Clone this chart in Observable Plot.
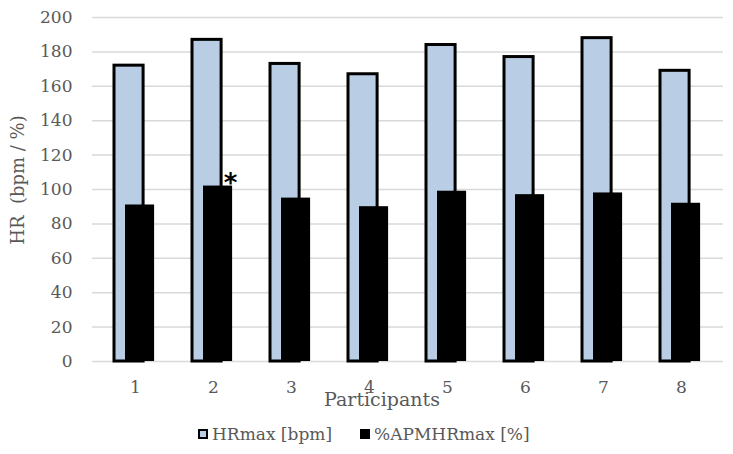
<!DOCTYPE html>
<html>
<head>
<meta charset="utf-8">
<script src="https://cdn.jsdelivr.net/npm/d3@7"></script>
<script src="https://cdn.jsdelivr.net/npm/@observablehq/plot@0.6"></script>
<style>
  html, body { margin: 0; padding: 0; background: #fff; }
  #chart { width: 733px; position: relative; }
  .legend { display: flex; justify-content: flex-start; align-items: center; margin-left: 198px; margin-top: 4px;
            font-family: "DejaVu Serif", serif; font-size: 17px; line-height: 20px; color: #595959; }
  .sw { display: inline-block; margin-right: 4px; box-sizing: border-box; }
  .item { display: flex; align-items: center; margin-right: 28px; }
</style>
</head>
<body>
<div id="chart"></div>
<script>
const participants = ["1","2","3","4","5","6","7","8"];
const hrmax = [172, 187, 173, 167, 184, 177, 188, 169];
const pctAPMHRmax = [91, 102, 95, 90, 99, 97, 98, 92];
const yTicks = [0, 20, 40, 60, 80, 100, 120, 140, 160, 180, 200];
const seriesNames = ["HRmax [bpm]", "%APMHRmax [%]"];
const significant = ["2"];

const rowsHR = participants.map((p, i) => ({p, v: hrmax[i]}));
const rowsPct = participants.map((p, i) => ({p, v: pctAPMHRmax[i]}));
const stars = rowsPct.filter(d => significant.includes(d.p));

const gray = "#595959";
const font = "DejaVu Serif, serif";

const plot = Plot.plot({
  width: 733,
  height: 420,
  marginTop: 17,
  marginBottom: 59,
  marginLeft: 92,
  marginRight: 10,
  style: {fontFamily: font, fontSize: "17px", color: gray, background: "#fff", overflow: "visible"},
  x: {domain: participants, padding: 0, label: null},
  y: {domain: [0, 200], ticks: yTicks, label: null},
  marks: [
    Plot.gridY(yTicks, {stroke: "#d9d9d9", strokeOpacity: 1, strokeWidth: 1.5}),
    Plot.axisY(yTicks, {tickSize: 0, tickPadding: 20, fontSize: 17, fill: gray}),
    Plot.axisX({tickSize: 0, tickPadding: 19, fontSize: 17, fill: gray}),
    Plot.barY(rowsHR, {x: "p", y: "v", fill: "#b9cde5", stroke: "#000", strokeWidth: 3, insetLeft: 18, insetRight: 30.9}),
    Plot.barY(rowsPct, {x: "p", y: "v", fill: "#000", insetLeft: 29, insetRight: 19.9}),
    Plot.text(stars, {x: "p", y: "v", text: () => "*", dx: 17, dy: -2, fontSize: 26, fill: "#000", fontFamily: "DejaVu Sans, sans-serif", fontWeight: "bold"}),
    Plot.text(["Participants"], {frameAnchor: "bottom", dx: -26, dy: 44, fontSize: 19, fill: gray})
  ]
});
document.getElementById("chart").appendChild(plot);

const legend = document.createElement("div");
legend.className = "legend";
const styles = [
  "background:#b9cde5;border:2px solid #000;width:10px;height:10px;",
  "background:#000;width:10px;height:10px;"
];
seriesNames.forEach((name, i) => {
  const item = document.createElement("div");
  item.className = "item";
  const sw = document.createElement("span");
  sw.className = "sw";
  sw.style.cssText = styles[i];
  const t = document.createElement("span");
  t.textContent = name;
  item.appendChild(sw);
  item.appendChild(t);
  legend.appendChild(item);
});
document.getElementById("chart").appendChild(legend);

// y-axis title
const svg = d3.select(plot);
svg.append("text")
  .attr("transform", "translate(24,180) rotate(-90)")
  .attr("text-anchor", "middle")
  .attr("fill", gray)
  .attr("font-size", 18)
  .attr("font-family", font)
  .text("HR  (bpm / %)");
</script>
</body>
</html>
